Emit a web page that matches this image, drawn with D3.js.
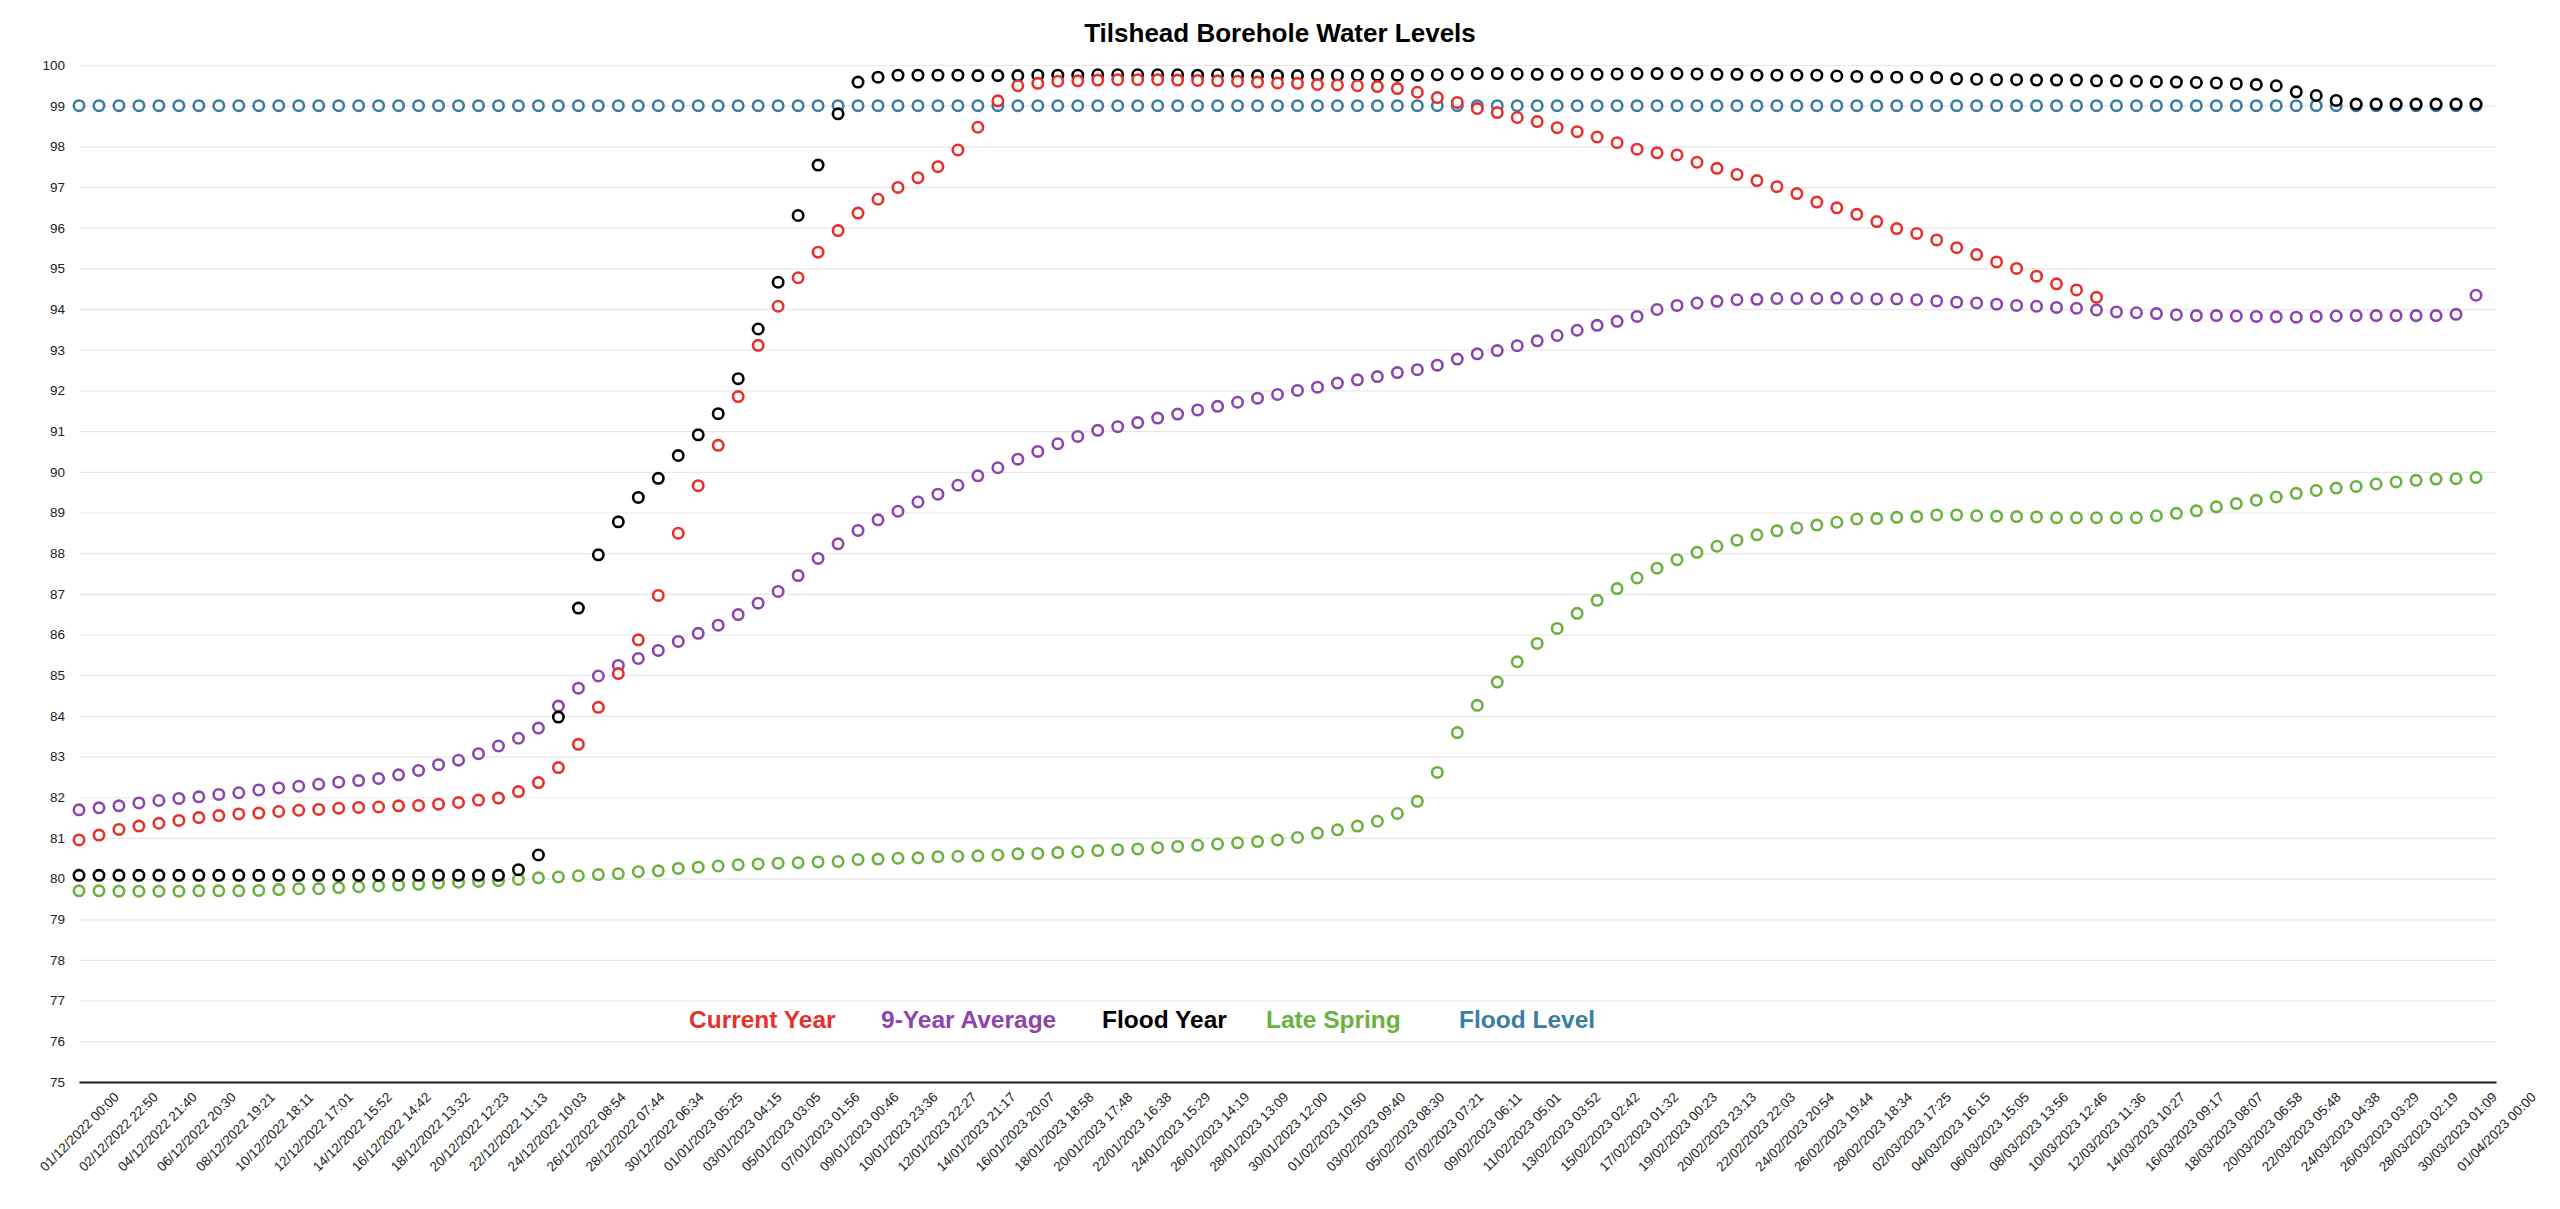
<!DOCTYPE html>
<html>
<head>
<meta charset="utf-8">
<script src="https://cdn.jsdelivr.net/npm/d3@7"></script>
<style>
  html, body { margin: 0; padding: 0; background: #ffffff; }
  svg { display: block; font-family: "Liberation Sans", Arial, Helvetica, sans-serif; }
</style>
</head>
<body>
<svg id="chart" width="2560" height="1209"></svg>
<script>
// ---------------- DATA ----------------
const chartTitle = "Tilshead Borehole Water Levels";
const seriesNames = ["Current Year", "9-Year Average", "Flood Year", "Late Spring", "Flood Level"];
const firstDay = "2022-12-01";
const lastAxisDay = "2023-04-01";

const yTickValues = [75, 76, 77, 78, 79, 80, 81, 82, 83, 84, 85, 86, 87, 88, 89, 90, 91, 92, 93, 94, 95, 96, 97, 98, 99, 100];

const xTickLabels = [
  "01/12/2022 00:00", "02/12/2022 22:50", "04/12/2022 21:40", "06/12/2022 20:30", "08/12/2022 19:21",
  "10/12/2022 18:11", "12/12/2022 17:01", "14/12/2022 15:52", "16/12/2022 14:42", "18/12/2022 13:32",
  "20/12/2022 12:23", "22/12/2022 11:13", "24/12/2022 10:03", "26/12/2022 08:54", "28/12/2022 07:44",
  "30/12/2022 06:34", "01/01/2023 05:25", "03/01/2023 04:15", "05/01/2023 03:05", "07/01/2023 01:56",
  "09/01/2023 00:46", "10/01/2023 23:36", "12/01/2023 22:27", "14/01/2023 21:17", "16/01/2023 20:07",
  "18/01/2023 18:58", "20/01/2023 17:48", "22/01/2023 16:38", "24/01/2023 15:29", "26/01/2023 14:19",
  "28/01/2023 13:09", "30/01/2023 12:00", "01/02/2023 10:50", "03/02/2023 09:40", "05/02/2023 08:30",
  "07/02/2023 07:21", "09/02/2023 06:11", "11/02/2023 05:01", "13/02/2023 03:52", "15/02/2023 02:42",
  "17/02/2023 01:32", "19/02/2023 00:23", "20/02/2023 23:13", "22/02/2023 22:03", "24/02/2023 20:54",
  "26/02/2023 19:44", "28/02/2023 18:34", "02/03/2023 17:25", "04/03/2023 16:15", "06/03/2023 15:05",
  "08/03/2023 13:56", "10/03/2023 12:46", "12/03/2023 11:36", "14/03/2023 10:27", "16/03/2023 09:17",
  "18/03/2023 08:07", "20/03/2023 06:58", "22/03/2023 05:48", "24/03/2023 04:38", "26/03/2023 03:29",
  "28/03/2023 02:19", "30/03/2023 01:09", "01/04/2023 00:00"
];

// daily readings from 01/12/2022
const currentYear = [
  80.95, 81.07, 81.21, 81.29, 81.36, 81.43, 81.50, 81.55, 81.59, 81.61,
  81.65, 81.68, 81.70, 81.73, 81.75, 81.76, 81.79, 81.80, 81.83, 81.87,
  81.93, 81.98, 82.14, 82.36, 82.73, 83.30, 84.21, 85.04, 85.87, 86.96,
  88.49, 89.66, 90.65, 91.85, 93.11, 94.07, 94.77, 95.40, 95.93, 96.36,
  96.70, 96.99, 97.23, 97.50, 97.91, 98.47, 99.12, 99.49, 99.55, 99.60,
  99.61, 99.63, 99.64, 99.64, 99.64, 99.63, 99.62, 99.61, 99.60, 99.58,
  99.56, 99.55, 99.52, 99.51, 99.49, 99.47, 99.42, 99.33, 99.20, 99.08,
  98.93, 98.83, 98.71, 98.61, 98.46, 98.36, 98.23, 98.09, 97.93, 97.84,
  97.79, 97.61, 97.46, 97.31, 97.16, 97.01, 96.84, 96.63, 96.49, 96.33,
  96.15, 95.98, 95.86, 95.70, 95.51, 95.34, 95.16, 95.00, 94.81, 94.62,
  94.47, 94.29
];

const nineYearAverage = [
  81.69, 81.74, 81.79, 81.86, 81.92, 81.97, 82.01, 82.07, 82.11, 82.18,
  82.23, 82.27, 82.32, 82.37, 82.41, 82.46, 82.55, 82.66, 82.80, 82.91,
  83.07, 83.26, 83.45, 83.70, 84.24, 84.68, 84.98, 85.24, 85.41, 85.61,
  85.83, 86.03, 86.23, 86.49, 86.77, 87.06, 87.45, 87.87, 88.23, 88.56,
  88.82, 89.03, 89.26, 89.45, 89.67, 89.90, 90.10, 90.31, 90.50, 90.69,
  90.87, 91.02, 91.11, 91.21, 91.32, 91.42, 91.52, 91.61, 91.71, 91.81,
  91.90, 92.00, 92.08, 92.18, 92.26, 92.34, 92.44, 92.51, 92.62, 92.77,
  92.90, 92.98, 93.10, 93.22, 93.35, 93.48, 93.60, 93.70, 93.82, 93.99,
  94.09, 94.15, 94.19, 94.23, 94.24, 94.26, 94.26, 94.26, 94.27, 94.26,
  94.25, 94.25, 94.23, 94.20, 94.17, 94.15, 94.12, 94.09, 94.07, 94.04,
  94.02, 93.98, 93.93, 93.91, 93.89, 93.86, 93.84, 93.84, 93.83, 93.82,
  93.81, 93.80, 93.82, 93.83, 93.84, 93.84, 93.84, 93.84, 93.84, 93.87,
  94.34
];

const floodYear = [
  80.08, 80.08, 80.08, 80.08, 80.08, 80.08, 80.08, 80.08, 80.08, 80.08,
  80.08, 80.08, 80.08, 80.08, 80.08, 80.08, 80.08, 80.08, 80.08, 80.08,
  80.08, 80.08, 80.22, 80.58, 83.97, 86.65, 87.96, 88.77, 89.37, 89.84,
  90.40, 90.91, 91.43, 92.29, 93.51, 94.66, 96.30, 97.54, 98.80, 99.58,
  99.70, 99.75, 99.75, 99.75, 99.75, 99.74, 99.74, 99.74, 99.75, 99.75,
  99.75, 99.76, 99.76, 99.76, 99.76, 99.76, 99.75, 99.76, 99.75, 99.74,
  99.74, 99.74, 99.75, 99.75, 99.75, 99.75, 99.75, 99.75, 99.76, 99.78,
  99.79, 99.79, 99.78, 99.77, 99.77, 99.78, 99.77, 99.78, 99.79, 99.79,
  99.79, 99.78, 99.77, 99.77, 99.75, 99.75, 99.75, 99.75, 99.73, 99.72,
  99.71, 99.70, 99.70, 99.69, 99.66, 99.65, 99.64, 99.64, 99.63, 99.63,
  99.63, 99.61, 99.61, 99.60, 99.59, 99.58, 99.57, 99.56, 99.54, 99.52,
  99.49, 99.34, 99.25, 99.13, 99.04, 99.04, 99.04, 99.04, 99.04, 99.04,
  99.04
];

const lateSpring = [
  79.70, 79.70, 79.69, 79.69, 79.69, 79.69, 79.70, 79.70, 79.70, 79.71,
  79.73, 79.75, 79.75, 79.78, 79.80, 79.82, 79.84, 79.86, 79.89, 79.91,
  79.93, 79.95, 79.98, 80.02, 80.04, 80.07, 80.10, 80.12, 80.17, 80.19,
  80.25, 80.28, 80.31, 80.34, 80.36, 80.38, 80.39, 80.41, 80.42, 80.47,
  80.48, 80.50, 80.51, 80.54, 80.55, 80.56, 80.58, 80.61, 80.62, 80.64,
  80.66, 80.69, 80.71, 80.73, 80.76, 80.79, 80.82, 80.85, 80.88, 80.91,
  80.95, 81.01, 81.12, 81.20, 81.29, 81.41, 81.60, 81.90, 82.61, 83.59,
  84.26, 84.83, 85.33, 85.78, 86.15, 86.52, 86.84, 87.13, 87.39, 87.63,
  87.84, 88.02, 88.17, 88.32, 88.45, 88.55, 88.62, 88.69, 88.76, 88.84,
  88.85, 88.88, 88.90, 88.94, 88.94, 88.92, 88.91, 88.90, 88.89, 88.87,
  88.87, 88.87, 88.87, 88.87, 88.92, 88.98, 89.04, 89.14, 89.22, 89.30,
  89.38, 89.47, 89.54, 89.60, 89.64, 89.70, 89.75, 89.79, 89.82, 89.83,
  89.86
];

const floodLevel = [
  99, 99, 99, 99, 99, 99, 99, 99, 99, 99, 99, 99, 99, 99, 99, 99, 99, 99, 99, 99,
  99, 99, 99, 99, 99, 99, 99, 99, 99, 99, 99, 99, 99, 99, 99, 99, 99, 99, 99, 99,
  99, 99, 99, 99, 99, 99, 99, 99, 99, 99, 99, 99, 99, 99, 99, 99, 99, 99, 99, 99,
  99, 99, 99, 99, 99, 99, 99, 99, 99, 99, 99, 99, 99, 99, 99, 99, 99, 99, 99, 99,
  99, 99, 99, 99, 99, 99, 99, 99, 99, 99, 99, 99, 99, 99, 99, 99, 99, 99, 99, 99,
  99, 99, 99, 99, 99, 99, 99, 99, 99, 99, 99, 99, 99, 99, 99, 99, 99, 99, 99, 99,
  99
];

// ---------------- LAYOUT / STYLE ----------------
const W = 2560, H = 1209;
const plot = { left: 79, right: 2496, top: 65, bottom: 1082 };
const colors = ["#e8302b", "#8e44ad", "#000000", "#6ab23e", "#3a7ca6"];
const legendX = [689, 881, 1102, 1266, 1459];
const legendY = 1019;

const svg = d3.select("#chart");

const parse = d3.utcParse("%Y-%m-%d");
const x = d3.scaleUtc()
  .domain([parse(firstDay), parse(lastAxisDay)])
  .range([plot.left, plot.right]);
const y = d3.scaleLinear()
  .domain([d3.min(yTickValues), d3.max(yTickValues)])
  .range([plot.bottom, plot.top]);

const days = d3.utcDay.range(parse(firstDay), parse(lastAxisDay));

// gridlines
const grid = svg.append("g")
  .attr("transform", `translate(${plot.left},0)`)
  .call(d3.axisLeft(y).tickValues(yTickValues).tickSize(-(plot.right - plot.left)).tickFormat(""));
grid.select(".domain").remove();
grid.selectAll("line").attr("stroke", "#e8e8e8").attr("stroke-width", 1.2);

// y tick labels
const yAxis = svg.append("g")
  .attr("transform", `translate(${plot.left - 14},0)`)
  .call(d3.axisLeft(y).tickValues(yTickValues).tickSize(0).tickPadding(0).tickFormat(d3.format("d")));
yAxis.select(".domain").remove();
yAxis.selectAll("text")
  .attr("font-size", 13.5)
  .attr("fill", "#222")
  .attr("font-family", "'Liberation Sans', Arial, sans-serif");

// x axis
const [d0, d1] = x.domain();
const xTickValues = xTickLabels.map((_, i) => new Date(+d0 + (d1 - d0) * i / (xTickLabels.length - 1)));
const xAxis = svg.append("g")
  .attr("transform", `translate(0,${plot.bottom})`)
  .call(d3.axisBottom(x).tickValues(xTickValues).tickSize(0)
    .tickFormat((d, i) => xTickLabels[i]));
xAxis.select(".domain").attr("stroke", "#1a1a1a").attr("stroke-width", 2);
xAxis.selectAll("text")
  .attr("font-size", 13.5)
  .attr("fill", "#222")
  .attr("font-family", "'Liberation Sans', Arial, sans-serif")
  .attr("text-anchor", "middle")
  .attr("dy", null)
  .attr("y", null)
  .attr("dominant-baseline", "central")
  .attr("transform", "translate(0,50) rotate(-45)");

// points (drawn so that the first series ends on top)
const allSeries = [currentYear, nineYearAverage, floodYear, lateSpring, floodLevel];
const drawOrder = [4, 3, 1, 2, 0];
drawOrder.forEach(k => {
  svg.append("g")
    .selectAll("circle")
    .data(allSeries[k])
    .join("circle")
    .attr("cx", (d, i) => x(days[i]))
    .attr("cy", d => y(d))
    .attr("r", 5.2)
    .attr("fill", "#ffffff")
    .attr("stroke", colors[k])
    .attr("stroke-width", 2.6);
});

// legend
svg.append("g").selectAll("text")
  .data(seriesNames)
  .join("text")
  .attr("x", (d, i) => legendX[i])
  .attr("y", legendY)
  .attr("dominant-baseline", "central")
  .attr("font-size", 24.5)
  .attr("font-weight", "bold")
  .attr("fill", (d, i) => colors[i])
  .text(d => d);

// title
svg.append("text")
  .attr("x", W / 2)
  .attr("y", 33)
  .attr("text-anchor", "middle")
  .attr("dominant-baseline", "central")
  .attr("font-size", 26)
  .attr("font-weight", "bold")
  .attr("fill", "#000")
  .text(chartTitle);
</script>
</body>
</html>
